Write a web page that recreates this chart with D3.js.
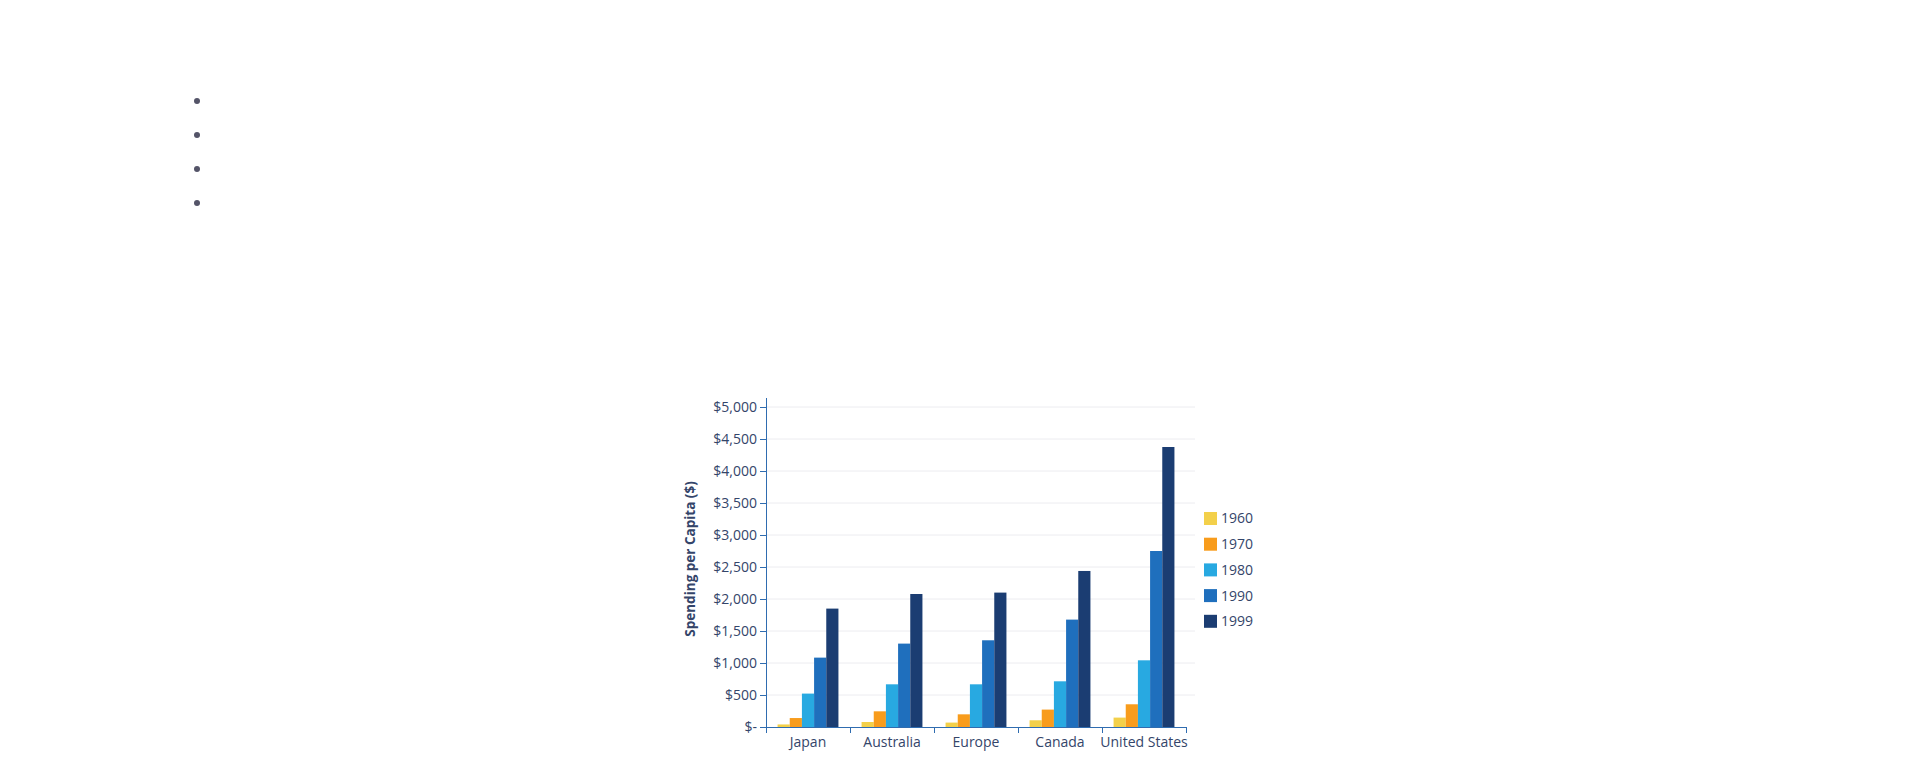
<!DOCTYPE html>
<html>
<head>
<meta charset="utf-8">
<script src="https://cdn.jsdelivr.net/npm/d3@7"></script>
<style>
  body { margin: 0; background: #fff; font-family: "Open Sans", sans-serif; }
  ul.notes { position: absolute; left: 0; top: 83px; margin: 0; padding-left: 212px; color: #545468; font-size: 16px; line-height: 34px; }
  #chart { position: absolute; left: 0; top: 0; }
</style>
</head>
<body>
<ul class="notes"><li>&nbsp;</li><li>&nbsp;</li><li>&nbsp;</li><li>&nbsp;</li></ul>
<svg id="chart" width="1920" height="774"></svg>
<script>
// chart data
var countries = ["Japan", "Australia", "Europe", "Canada", "United States"];
var years = ["1960", "1970", "1980", "1990", "1999"];
var spend1960 = [40, 78, 69, 105, 147];
var spend1970 = [140, 245, 198, 272, 355];
var spend1980 = [522, 667, 667, 714, 1042];
var spend1990 = [1084, 1303, 1355, 1678, 2750];
var spend1999 = [1850, 2078, 2100, 2438, 4375];
var yTicks = [0, 500, 1000, 1500, 2000, 2500, 3000, 3500, 4000, 4500, 5000];
var yearColors = ['#f3d04a', '#f89c1c', '#28a9e1', '#1f6fbd', '#1b3d72'];

var series = [spend1960, spend1970, spend1980, spend1990, spend1999];

var left = 766, bottom = 727, plotW = 420, plotH = 320;
var textColor = '#34456a', axisColor = '#2f6cb0';

var svg = d3.select("#chart");
var g = svg.append("g").attr("transform", "translate(" + left + "," + (bottom - plotH) + ")");

var x = d3.scaleBand().domain(countries).range([0, plotW]);
var xInner = d3.scaleBand().domain(years).range([0, x.bandwidth()]).paddingOuter(0.95);
var y = d3.scaleLinear().domain([0, 5000]).range([plotH, 0]);

// gridlines
g.append("g").selectAll("line")
  .data(yTicks.slice(1))
  .join("line")
  .attr("x1", 0).attr("x2", plotW + 9)
  .attr("y1", function(d) { return y(d); }).attr("y2", function(d) { return y(d); })
  .attr("stroke", "#ececf0").attr("stroke-width", 1);

// bars
var groups = g.append("g").selectAll("g")
  .data(countries)
  .join("g")
  .attr("transform", function(d) { return "translate(" + x(d) + ",0)"; });

groups.selectAll("rect")
  .data(function(d, i) { return years.map(function(yr, j) { return {year: yr, value: series[j][i], k: j}; }); })
  .join("rect")
  .attr("x", function(d) { return xInner(d.year); })
  .attr("width", xInner.bandwidth())
  .attr("y", function(d) { return y(d.value); })
  .attr("height", function(d) { return plotH - y(d.value); })
  .attr("fill", function(d) { return yearColors[d.k]; });

// y axis
var fmt = function(d) { return d === 0 ? "$-" : "$" + d3.format(",")(d); };
var yAxis = g.append("g")
  .call(d3.axisLeft(y).tickValues(yTicks).tickFormat(fmt).tickSize(6).tickSizeOuter(0));
yAxis.select(".domain").attr("d", "M0.5,-9V" + plotH).attr("stroke", axisColor);
yAxis.selectAll(".tick line").attr("stroke", axisColor);
yAxis.selectAll("text").attr("fill", textColor).attr("font-size", "14px")
  .attr("font-family", "Open Sans, sans-serif").attr("x", -9);

// x axis
var xAxis = g.append("g").attr("transform", "translate(0," + plotH + ")")
  .call(d3.axisBottom(x).tickSize(0).tickSizeOuter(0));
xAxis.select(".domain").attr("d", "M-6,0.5H" + plotW).attr("stroke", axisColor);
xAxis.selectAll("text").attr("fill", textColor).attr("font-size", "14px")
  .attr("font-family", "Open Sans, sans-serif").attr("dy", "1.2em");
xAxis.append("g").selectAll("line")
  .data(countries.concat([null]))
  .join("line")
  .attr("x1", function(d, i) { return i * x.step() + 0.5; })
  .attr("x2", function(d, i) { return i * x.step() + 0.5; })
  .attr("y1", 0).attr("y2", 6)
  .attr("stroke", axisColor);

// y axis title
g.append("text")
  .attr("transform", "translate(" + (-71) + "," + (plotH / 2 - 8) + ") rotate(-90)")
  .attr("text-anchor", "middle")
  .attr("fill", textColor)
  .attr("font-size", "13.5px")
  .attr("font-weight", "bold")
  .text("Spending per Capita ($)");

// legend
var legend = svg.append("g").attr("transform", "translate(1204,512)");
var item = legend.selectAll("g")
  .data(years)
  .join("g")
  .attr("transform", function(d, i) { return "translate(0," + (i * 25.7) + ")"; });
item.append("rect").attr("width", 13).attr("height", 13)
  .attr("fill", function(d, i) { return yearColors[i]; });
item.append("text").attr("x", 17).attr("y", 6.5).attr("dy", "0.35em")
  .attr("fill", textColor).attr("font-size", "14px")
  .text(function(d) { return d; });
</script>
</body>
</html>
